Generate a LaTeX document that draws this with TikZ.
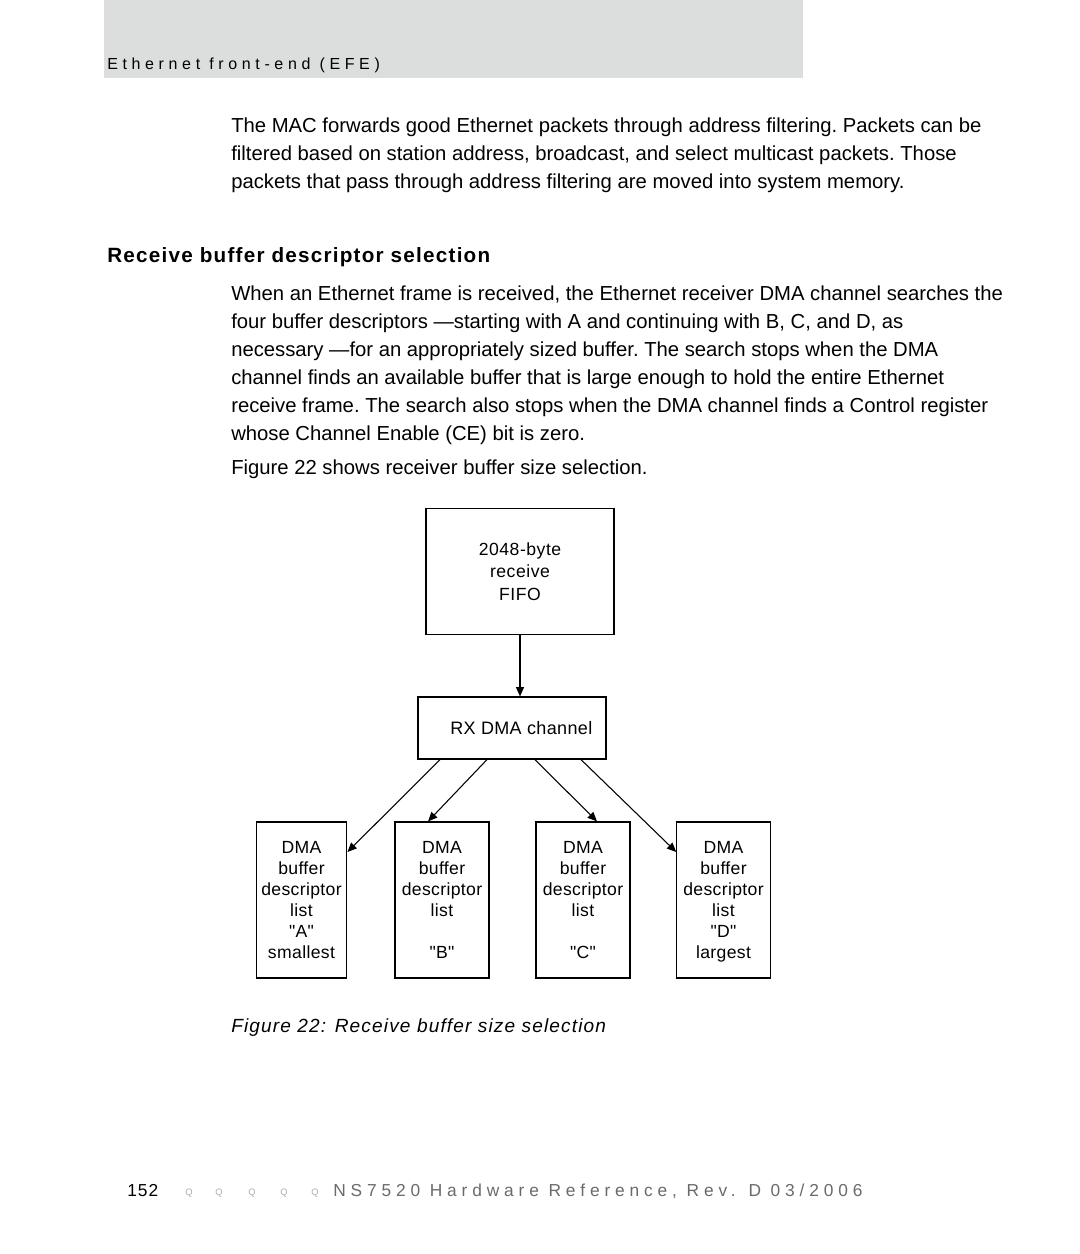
\documentclass[tikz,border=0pt]{standalone}
\usepackage{fontspec}
\setmainfont{Liberation Sans}
\newfontfamily\boxfont{Liberation Sans}
\usetikzlibrary{arrows.meta}
\definecolor{hdrgrey}{HTML}{DCDDDD}
\definecolor{footgrey}{HTML}{6A6A6A}
\tikzset{
  bodyline/.style={anchor=base west, inner sep=0pt, font=\fontsize{15.2}{18}\selectfont\frenchspacing},
  box/.style={draw, line width=0.9pt, inner sep=0pt, align=center},
  lbox/.style={box, minimum height=117pt, font=\boxfont\fontsize{13.2}{15.75}\selectfont\addfontfeatures{LetterSpace=2}},
  arr/.style={-{Triangle[length=7pt,width=6pt]}, line width=0.8pt}
}
\begin{document}
\begin{tikzpicture}[x=0.75pt,y=-0.75pt]
\useasboundingbox (0,0) rectangle (1080,1254);
% header
\fill[hdrgrey] (104,0) rectangle (803,78);
\node[anchor=base west, inner sep=0pt, font=\fontsize{12}{14}\selectfont\addfontfeatures{LetterSpace=29}] (hdr) at (107,69) {Ethernet front-end (EFE)};
% body text
\node[bodyline] (p1a) at (231,132) {The MAC forwards good Ethernet packets through address filtering. Packets can be};
\node[bodyline] (p1b) at (231,160) {filtered based on station address, broadcast, and select multicast packets. Those};
\node[bodyline] (p1c) at (231,188) {packets that pass through address filtering are moved into system memory.};
\node[anchor=base west, inner sep=0pt, font=\fontsize{15.5}{18}\selectfont\bfseries\addfontfeatures{LetterSpace=6}] (head) at (107,262) {Receive buffer descriptor selection};
\node[bodyline] (p2a) at (231,300) {When an Ethernet frame is received, the Ethernet receiver DMA channel searches the};
\node[bodyline] (p2b) at (231,328) {four buffer descriptors ---starting with A and continuing with B, C, and D, as};
\node[bodyline] (p2c) at (231,356) {necessary ---for an appropriately sized buffer. The search stops when the DMA};
\node[bodyline] (p2d) at (231,384) {channel finds an available buffer that is large enough to hold the entire Ethernet};
\node[bodyline] (p2e) at (231,412) {receive frame. The search also stops when the DMA channel finds a Control register};
\node[bodyline] (p2f) at (231,440) {whose Channel Enable (CE) bit is zero.};
\node[bodyline] (p3) at (231,474) {Figure 22 shows receiver buffer size selection.};
% diagram
\node[box, minimum width=141pt, minimum height=94pt, font=\fontsize{13.2}{17}\selectfont\addfontfeatures{LetterSpace=3}] (fifo) at (520,571.5) {2048-byte\\receive\\FIFO};
\node[box, minimum width=141pt, minimum height=46.5pt, font=\fontsize{13.5}{15}\selectfont\addfontfeatures{LetterSpace=2}] (rx) at (512,728) {\hspace*{14pt}RX DMA channel};
\node[lbox, minimum width=68pt] (la) at (301.5,900) {DMA\\buffer\\descriptor\\list\\"A"\\smallest};
\node[lbox, minimum width=70.5pt] (lb) at (442,900) {DMA\\buffer\\descriptor\\list\\\mbox{}\\"B"};
\node[lbox, minimum width=70.5pt] (lc) at (583,900) {DMA\\buffer\\descriptor\\list\\\mbox{}\\"C"};
\node[lbox, minimum width=70pt] (ld) at (723.5,900) {DMA\\buffer\\descriptor\\list\\"D"\\\smash{largest}\vphantom{smallest}};
\draw[arr] (fifo.south) -- (fifo.south |- rx.north);
\draw[arr] (rx.south -| 440,0) -- (la.east |- 0,852);
\draw[arr] (rx.south -| 487,0) -- (lb.north -| 428,0);
\draw[arr] (rx.south -| 535,0) -- (lc.north -| 597,0);
\draw[arr] (rx.south -| 581,0) -- (ld.west |- 0,852);
% caption
\node[anchor=base west, inner sep=0pt, font=\fontsize{14.3}{17}\selectfont\itshape\addfontfeatures{LetterSpace=6}] (cap) at (231,1032) {Figure 22: Receive buffer size selection};
% footer
\node[anchor=base west, inner sep=0pt, font=\fontsize{13}{15}\selectfont\addfontfeatures{LetterSpace=6}] (pg) at (127,1196) {152};
\foreach \q/\xx in {1/185,2/215,3/248,4/280,5/311}{
  \node[anchor=base west, inner sep=0pt, text=footgrey!55, font=\fontsize{7}{8}\selectfont] (q\q) at (\xx,1195) {Q};
}
\node[anchor=base west, inner sep=0pt, text=footgrey, font=\fontsize{13}{15}\selectfont\addfontfeatures{LetterSpace=28}] (foot) at (333,1196) {NS7520 Hardware Reference, Rev. D 03/2006};
\end{tikzpicture}
\end{document}
